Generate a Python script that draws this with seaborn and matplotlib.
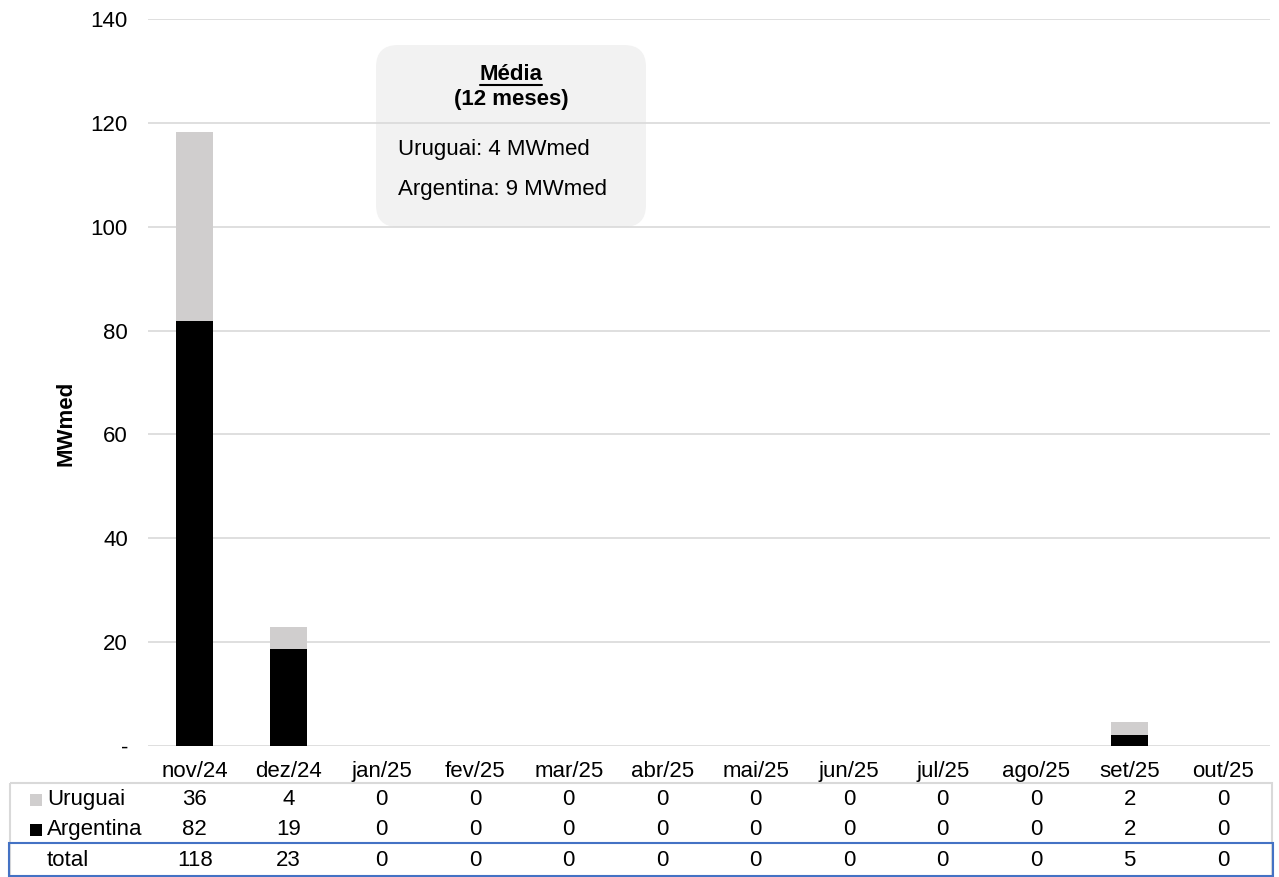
import numpy as np
import pandas as pd
import matplotlib
matplotlib.use("Agg")
import matplotlib.pyplot as plt
import matplotlib.transforms as mtrans
from matplotlib.patches import FancyBboxPatch, Rectangle
from matplotlib.lines import Line2D
import seaborn as sns

# ---- data (MWmed) ----
meses = ["nov/24", "dez/24", "jan/25", "fev/25", "mar/25", "abr/25",
         "mai/25", "jun/25", "jul/25", "ago/25", "set/25", "out/25"]
uruguai = [36.4, 4.4, 0, 0, 0, 0, 0, 0, 0, 0, 2.4, 0]
argentina = [81.9, 18.6, 0, 0, 0, 0, 0, 0, 0, 0, 2.2, 0]
y_ticks = [0, 20, 40, 60, 80, 100, 120, 140]
y_tick_labels = ["-", "20", "40", "60", "80", "100", "120", "140"]

COR_URU = "#D0CECE"
COR_ARG = "#000000"
COR_GRADE = "#D9D9D9"

df = pd.DataFrame({"mes": meses, "Uruguai": uruguai, "Argentina": argentina})
df["total"] = df["Uruguai"] + df["Argentina"]

sns.set_theme(style="white")
plt.rcParams["font.family"] = ["Liberation Sans", "DejaVu Sans"]
for chave in ("text.color", "xtick.color", "ytick.color", "axes.labelcolor"):
    plt.rcParams[chave] = "black"
FS = 16

W, H = 1279, 877
fig = plt.figure(figsize=(W / 100, H / 100), dpi=100)
# pixel coordinates measured from the top-left corner
px = mtrans.Affine2D().scale(1, -1).translate(0, H)

ax_l, ax_r, ax_t, ax_b = 148, 1270, 19, 746
ax = fig.add_axes([ax_l / W, 1 - ax_b / H, (ax_r - ax_l) / W, (ax_b - ax_t) / H])

# stacked bars: total in light gray, Argentina drawn over it in black
sns.barplot(data=df, x="mes", y="total", color=COR_URU, saturation=1,
            width=0.4, linewidth=0, ax=ax, zorder=2)
sns.barplot(data=df, x="mes", y="Argentina", color=COR_ARG, saturation=1,
            width=0.4, linewidth=0, ax=ax, zorder=3)

ax.set_xlim(-0.5, len(meses) - 0.5)
ax.set_ylim(0, 140)
ax.set_yticks(y_ticks)
ax.set_yticklabels(y_tick_labels, fontsize=FS)
ax.set_xticks(range(len(meses)))
ax.set_xticklabels(meses, fontsize=FS)
ax.set_xlabel("")
ax.set_ylabel("")
ax.tick_params(axis="y", length=0, pad=14.4)
ax.tick_params(axis="x", length=0, pad=10.5)
ax.set_axisbelow(True)
ax.yaxis.grid(True, color=COR_GRADE, linewidth=1.2)
for s in ax.spines.values():
    s.set_visible(False)

fig.text(66, 423, "MWmed", transform=px, rotation=90, ha="center", va="center",
         fontsize=FS, fontweight="bold")

# ---- summary box ----
caixa = FancyBboxPatch((376, 45), 270, 182, boxstyle="round,pad=0,rounding_size=22",
                       transform=px, facecolor="#F2F2F2", edgecolor="none",
                       zorder=0.2, clip_on=False)
ax.add_patch(caixa)
fig.text(511, 74, "Média", transform=px, ha="center", va="center",
         fontsize=FS, fontweight="bold")
fig.add_artist(Line2D([480, 542], [85, 85], transform=px, color="black", lw=1.5))
fig.text(511, 100, "(12 meses)", transform=px, ha="center", va="center",
         fontsize=FS, fontweight="bold")
fig.text(398, 150, f"Uruguai: {np.mean(uruguai):.0f} MWmed", transform=px,
         ha="left", va="center", fontsize=FS)
fig.text(398, 190, f"Argentina: {np.mean(argentina):.0f} MWmed", transform=px,
         ha="left", va="center", fontsize=FS)

# ---- data table under the axis ----
tr_tab = mtrans.blended_transform_factory(ax.transData, px)
linhas = [("Uruguai", df["Uruguai"], COR_URU, 799.5),
          ("Argentina", df["Argentina"], COR_ARG, 829.5),
          ("total", df["total"], None, 861)]
for nome, valores, cor, y in linhas:
    if cor is not None:
        fig.add_artist(Rectangle((30, y - 6), 12, 12, transform=px,
                                 facecolor=cor, edgecolor="none"))
    fig.text(47, y, nome, transform=px, ha="left", va="center", fontsize=FS)
    for i, v in enumerate(valores):
        fig.text(i, y, f"{v:.0f}", transform=tr_tab, ha="center", va="center",
                 fontsize=FS)

fig.add_artist(Rectangle((10, 783), 1261.5, 100, transform=px, facecolor="none",
                         edgecolor=COR_GRADE, linewidth=1.5))
fig.add_artist(Rectangle((8.5, 843), 1264.5, 33, transform=px, facecolor="none",
                         edgecolor="#4472C4", linewidth=1.5))

fig.savefig("out.png", dpi=100)
